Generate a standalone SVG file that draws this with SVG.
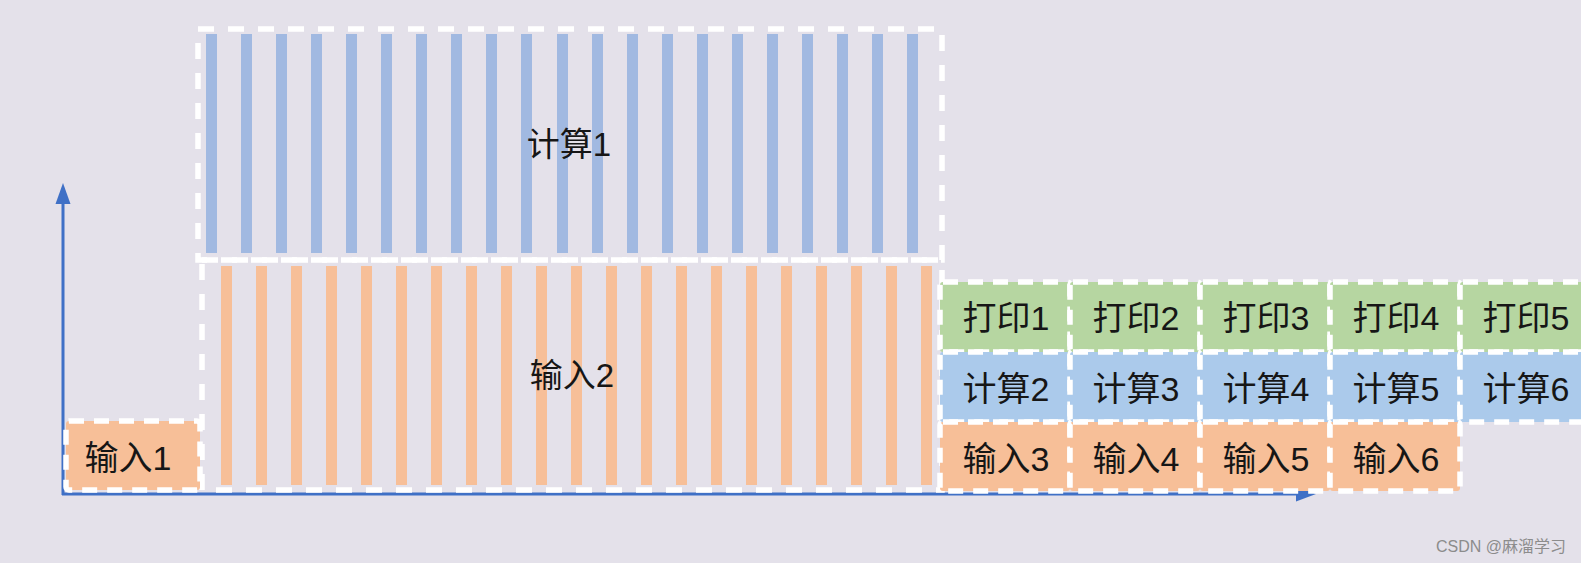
<svg xmlns="http://www.w3.org/2000/svg" width="1581" height="563" viewBox="0 0 1581 563">
<defs>
<style>
.bg{fill:#e4e1ea}
.big{fill:none;stroke:#ffffff;stroke-width:5.5;stroke-dasharray:16 14}
.bb{fill:#a1b9e1}
.ob{fill:#f7bf98}
.box{stroke:#ffffff;stroke-width:5.5;stroke-dasharray:15 10}
.o{fill:#f7bf98}
.b{fill:#abcaeb}
.g{fill:#b6d6a1}
.t{font-family:"Liberation Sans","Noto Sans CJK SC",sans-serif;font-size:33px;fill:#161616;text-anchor:middle}
.s{font-size:34px}
.axis{stroke:#3f70c6;stroke-width:3;fill:none}
.ah{fill:#3f70c6}
.wm{font-family:"Liberation Sans","Noto Sans CJK SC",sans-serif;font-size:16px;fill:#8c8c8c;text-anchor:end}
</style>
</defs>
<rect class="bg" x="0" y="0" width="1581" height="563"/>
<g id="connectors">
<line class="axis" x1="63" y1="495" x2="63" y2="200"/>
<polygon class="ah" points="63,183 55.5,204 70.5,204"/>
<line class="axis" x1="62" y1="494" x2="1300" y2="494"/>
<polygon class="ah" points="1316,494 1296,486.5 1296,501.5"/>
</g>
<g id="compute1">
<g>
<rect class="bb" x="206" y="34" width="11" height="219"/>
<rect class="bb" x="241" y="34" width="11" height="219"/>
<rect class="bb" x="276" y="34" width="11" height="219"/>
<rect class="bb" x="311" y="34" width="11" height="219"/>
<rect class="bb" x="346" y="34" width="11" height="219"/>
<rect class="bb" x="381" y="34" width="11" height="219"/>
<rect class="bb" x="416" y="34" width="11" height="219"/>
<rect class="bb" x="451" y="34" width="11" height="219"/>
<rect class="bb" x="486" y="34" width="11" height="219"/>
<rect class="bb" x="521" y="34" width="11" height="219"/>
<rect class="bb" x="557" y="34" width="11" height="219"/>
<rect class="bb" x="592" y="34" width="11" height="219"/>
<rect class="bb" x="627" y="34" width="11" height="219"/>
<rect class="bb" x="662" y="34" width="11" height="219"/>
<rect class="bb" x="697" y="34" width="11" height="219"/>
<rect class="bb" x="732" y="34" width="11" height="219"/>
<rect class="bb" x="767" y="34" width="11" height="219"/>
<rect class="bb" x="802" y="34" width="11" height="219"/>
<rect class="bb" x="837" y="34" width="11" height="219"/>
<rect class="bb" x="872" y="34" width="11" height="219"/>
<rect class="bb" x="907" y="34" width="11" height="219"/>
</g>
<rect class="big" x="198" y="29" width="744" height="231"/>
<text class="t" x="569" y="156">计算1</text>
</g>
<g id="input2">
<g>
<rect class="ob" x="221" y="266" width="11" height="219"/>
<rect class="ob" x="256" y="266" width="11" height="219"/>
<rect class="ob" x="291" y="266" width="11" height="219"/>
<rect class="ob" x="326" y="266" width="11" height="219"/>
<rect class="ob" x="361" y="266" width="11" height="219"/>
<rect class="ob" x="396" y="266" width="11" height="219"/>
<rect class="ob" x="431" y="266" width="11" height="219"/>
<rect class="ob" x="466" y="266" width="11" height="219"/>
<rect class="ob" x="501" y="266" width="11" height="219"/>
<rect class="ob" x="536" y="266" width="11" height="219"/>
<rect class="ob" x="571" y="266" width="11" height="219"/>
<rect class="ob" x="606" y="266" width="11" height="219"/>
<rect class="ob" x="641" y="266" width="11" height="219"/>
<rect class="ob" x="676" y="266" width="11" height="219"/>
<rect class="ob" x="711" y="266" width="11" height="219"/>
<rect class="ob" x="746" y="266" width="11" height="219"/>
<rect class="ob" x="781" y="266" width="11" height="219"/>
<rect class="ob" x="816" y="266" width="11" height="219"/>
<rect class="ob" x="851" y="266" width="11" height="219"/>
<rect class="ob" x="886" y="266" width="11" height="219"/>
<rect class="ob" x="921" y="266" width="11" height="219"/>
</g>
<rect class="big" x="202" y="260" width="740" height="230"/>
<text class="t" x="572" y="387">输入2</text>
</g>
<g id="input1"><rect class="box o" x="66" y="421" width="134" height="69" rx="3"/><text class="t s" x="128" y="470">输入1</text></g>
<g id="print1"><rect class="box g" x="940" y="282" width="130" height="70" rx="3"/><text class="t s" x="1006" y="330">打印1</text></g>
<g id="print2"><rect class="box g" x="1070" y="282" width="130" height="70" rx="3"/><text class="t s" x="1136" y="330">打印2</text></g>
<g id="print3"><rect class="box g" x="1200" y="282" width="130" height="70" rx="3"/><text class="t s" x="1266" y="330">打印3</text></g>
<g id="print4"><rect class="box g" x="1330" y="282" width="130" height="70" rx="3"/><text class="t s" x="1396" y="330">打印4</text></g>
<g id="print5"><rect class="box g" x="1460" y="282" width="130" height="70" rx="3"/><text class="t s" x="1526" y="330">打印5</text></g>
<g id="compute2"><rect class="box b" x="940" y="352" width="130" height="70" rx="3"/><text class="t s" x="1006" y="401">计算2</text></g>
<g id="compute3"><rect class="box b" x="1070" y="352" width="130" height="70" rx="3"/><text class="t s" x="1136" y="401">计算3</text></g>
<g id="compute4"><rect class="box b" x="1200" y="352" width="130" height="70" rx="3"/><text class="t s" x="1266" y="401">计算4</text></g>
<g id="compute5"><rect class="box b" x="1330" y="352" width="130" height="70" rx="3"/><text class="t s" x="1396" y="401">计算5</text></g>
<g id="compute6"><rect class="box b" x="1460" y="352" width="130" height="70" rx="3"/><text class="t s" x="1526" y="401">计算6</text></g>
<g id="input3"><rect class="box o" x="940" y="422" width="130" height="69" rx="3"/><text class="t s" x="1006" y="471">输入3</text></g>
<g id="input4"><rect class="box o" x="1070" y="422" width="130" height="69" rx="3"/><text class="t s" x="1136" y="471">输入4</text></g>
<g id="input5"><rect class="box o" x="1200" y="422" width="130" height="69" rx="3"/><text class="t s" x="1266" y="471">输入5</text></g>
<g id="input6"><rect class="box o" x="1330" y="422" width="130" height="69" rx="3"/><text class="t s" x="1396" y="471">输入6</text></g>
<text class="wm" x="1566" y="552">CSDN @麻溜学习</text>
</svg>
